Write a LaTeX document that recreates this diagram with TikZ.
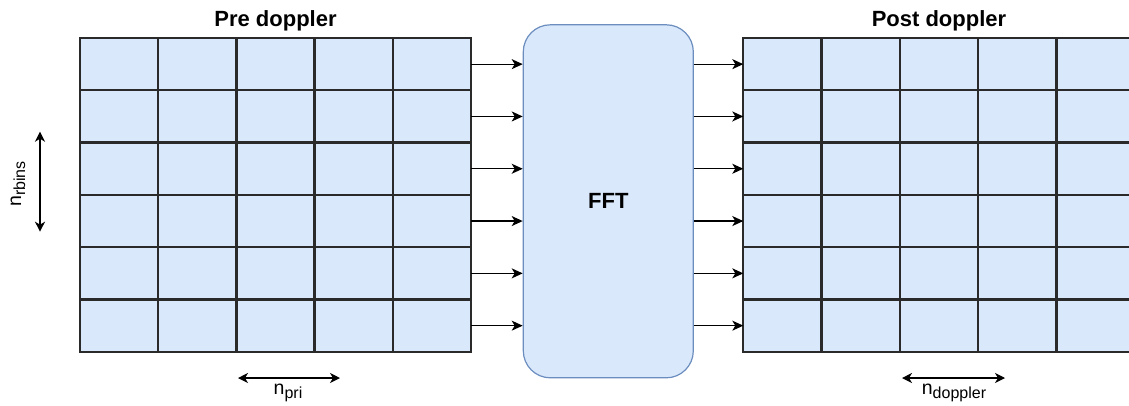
\documentclass[tikz,border=0pt]{standalone}
\usepackage{fontspec}
\setmainfont{Liberation Sans}
\usetikzlibrary{arrows.meta}

\definecolor{cellfill}{HTML}{DAE8FC}
\definecolor{cellline}{HTML}{2A2A2A}
\definecolor{fftline}{HTML}{6C8EBF}

% "n" with a lowered, smaller index
\newcommand{\nidx}[1]{{\fontsize{19.5}{22}\selectfont n\raisebox{-4pt}{\fontsize{16}{19}\selectfont #1}}}

\begin{document}
\begin{tikzpicture}[x=1pt,y=-1pt,
  cell/.style={draw=cellline, fill=cellfill, line width=2.3pt,
    minimum width=78.3pt, minimum height=52.3pt, inner sep=0pt, outer sep=0pt},
  flow/.style={-{Stealth[length=11pt,width=10pt,inset=3pt]}, line width=1.3pt},
  span/.style={{Stealth[length=10pt,width=10pt,inset=3pt]}-{Stealth[length=10pt,width=10pt,inset=3pt]}, line width=1.3pt},
  title/.style={font=\bfseries\fontsize{22}{26}\selectfont},
  lbl/.style={inner sep=0pt}]

\useasboundingbox (0,0) rectangle (1129,405);

% input matrix
\foreach \r in {1,...,6}
  \foreach \c in {1,...,5}
    \node[cell] (L-\r-\c) at ({80+78.2*(\c-0.5)}, {38+52.3*(\r-0.5)}) {};

% output matrix, running past the right edge
\begin{scope}
  \clip (0,0) rectangle (1129,405);
  \foreach \r in {1,...,6}
    \foreach \c in {1,...,5}
      \node[cell] (R-\r-\c) at ({743.3+78.3*(\c-0.5)}, {38+52.3*(\r-0.5)}) {};
\end{scope}

% transform block
\node[draw=fftline, fill=cellfill, rounded corners=27pt, line width=1.2pt,
  minimum width=170pt, minimum height=353pt, title] (fft) at (608.3,201.3) {FFT};

% row-wise data flow
\foreach \r in {1,...,6} {
  \draw[flow] (L-\r-5.east) -- (L-\r-5.east -| fft.west);
  \draw[flow] (fft.east |- R-\r-1.west) -- (R-\r-1.west);
}

% titles
\node[title, anchor=base] (pre) at (275.5,26) {Pre doppler};
\node[title, anchor=base] (post) at (939,26) {Post doppler};

% dimension markers
\coordinate (rb-top) at (40,131.7);
\coordinate (rb-bot) at (40,231.7);
\draw[span] (rb-top) -- (rb-bot);
\node[lbl, rotate=90, anchor=center] (nrb) at (18,184) {\nidx{rbins}};

\coordinate (pri-l) at (238,378);
\coordinate (pri-r) at (340,378);
\draw[span] (pri-l) -- (pri-r);
\node[lbl, anchor=base] (npri) at (288,394) {\nidx{pri}};

\coordinate (dop-l) at (902,378);
\coordinate (dop-r) at (1005,378);
\draw[span] (dop-l) -- (dop-r);
\node[lbl, anchor=base] (ndop) at (954,394) {\nidx{doppler}};

\end{tikzpicture}
\end{document}
